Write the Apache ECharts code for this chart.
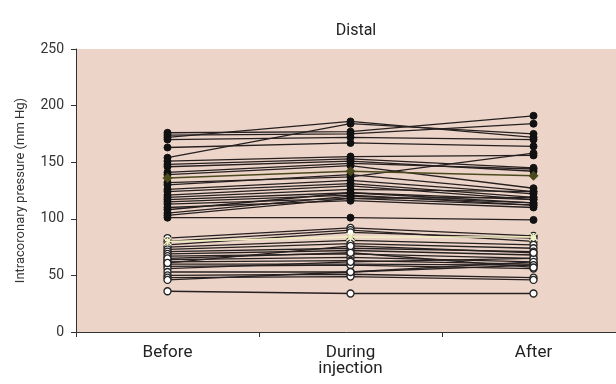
<!DOCTYPE html>
<html>
<head>
<meta charset="utf-8">
<script src="https://cdn.jsdelivr.net/npm/echarts@6/dist/echarts.min.js"></script>
<style>
  html, body { margin: 0; padding: 0; background: #fff; }
  #chart { width: 616px; height: 384px; }
</style>
</head>
<body>
<div id="chart"></div>
<script>
  // x categories
  const stages = ['Before', 'During\ninjection', 'After'];
  const yTicks = [0, 50, 100, 150, 200, 250];

  // filled dots: higher-pressure patients [before, during, after]
  const highGroup = [
    [176, 177, 191], [174, 175, 184], [172, 186, 172], [170, 172, 170],
    [163, 167, 164], [154, 184, 175], [151, 155, 156], [148, 153, 145],
    [146, 151, 142], [141, 149, 144], [139, 147, 127], [132, 137, 158],
    [130, 139, 124], [126, 134, 122], [124, 131, 119], [121, 129, 117],
    [119, 126, 124], [117, 123, 114], [115, 121, 112], [113, 118, 119],
    [110, 116, 110], [108, 123, 117], [105, 120, 114], [103, 118, 112],
    [101, 101, 99]
  ];

  // open dots: lower-pressure patients [before, during, after]
  const lowGroup = [
    [83, 92, 85], [80, 90, 80], [77, 88, 83], [75, 81, 77], [73, 78, 74],
    [71, 74, 71], [69, 72, 68], [67, 69, 65], [64, 66, 62], [62, 63, 60],
    [60, 60, 59], [58, 59, 56], [56, 62, 65], [53, 53, 62], [50, 51, 48],
    [48, 49, 46], [46, 53, 59], [36, 34, 34], [65, 70, 57], [61, 76, 70]
  ];

  // group summary lines
  const highSummary = [136, 142, 138];
  const lowSummary = [80, 84, 84];

  const font = '"Liberation Sans Narrow", "Roboto", Arial, sans-serif';
  const series = [];

  highGroup.forEach(function (d) {
    series.push({
      type: 'line', data: d, symbol: 'circle', symbolSize: 7,
      lineStyle: { color: '#262020', width: 1.3 },
      itemStyle: { color: '#111', borderColor: '#111', borderWidth: 1 },
      silent: true, animation: false
    });
  });
  lowGroup.forEach(function (d) {
    series.push({
      type: 'line', data: d, symbol: 'circle', symbolSize: 7,
      lineStyle: { color: '#262020', width: 1.3 },
      itemStyle: { color: '#fff', borderColor: '#222', borderWidth: 1.3 },
      silent: true, animation: false
    });
  });
  series.push({
    type: 'line', data: highSummary, symbol: 'diamond', symbolSize: 10,
    lineStyle: { color: '#4b4a1c', width: 1.5 },
    itemStyle: { color: '#4b4a1c' }, z: 5, animation: false
  });
  series.push({
    type: 'line', data: lowSummary, symbol: 'path://M0,0L10,10M10,0L0,10M5,0L5,10', symbolSize: 8,
    lineStyle: { color: '#f2efc0', width: 1.5 },
    itemStyle: { color: '#f2efc0', borderColor: '#f2efc0', borderWidth: 1.5 }, z: 5, animation: false
  });

  const chart = echarts.init(document.getElementById('chart'));
  chart.setOption({
    animation: false,
    title: {
      text: 'Distal', left: 351, top: 18, textAlign: 'center',
      textStyle: { fontFamily: font, fontSize: 16, fontWeight: 'normal', color: '#222' }
    },
    grid: {
      left: 76, top: 49, width: 549, bottom: 52,
      outerBoundsMode: 'none',
      show: true, backgroundColor: '#ecd4c9', borderWidth: 0
    },
    xAxis: {
      type: 'category', data: stages,
      axisLine: { lineStyle: { color: '#333', width: 1 } },
      axisTick: { show: true, length: 5, lineStyle: { color: '#333' } },
      axisLabel: { fontFamily: font, fontSize: 17, color: '#222', margin: 13, lineHeight: 16 },
      splitLine: { show: false }
    },
    yAxis: {
      type: 'value', min: yTicks[0], max: yTicks[yTicks.length - 1], interval: 50,
      name: 'Intracoronary pressure (mm Hg)', nameLocation: 'middle', nameGap: 49,
      nameTextStyle: { fontFamily: font, fontSize: 13, color: '#333' },
      axisLine: { show: true, lineStyle: { color: '#333', width: 1 } },
      axisTick: { show: true, length: 5, lineStyle: { color: '#333' } },
      axisLabel: { fontFamily: font, fontSize: 14, color: '#333', margin: 12 },
      splitLine: { show: false }
    },
    series: series
  });
</script>
</body>
</html>
